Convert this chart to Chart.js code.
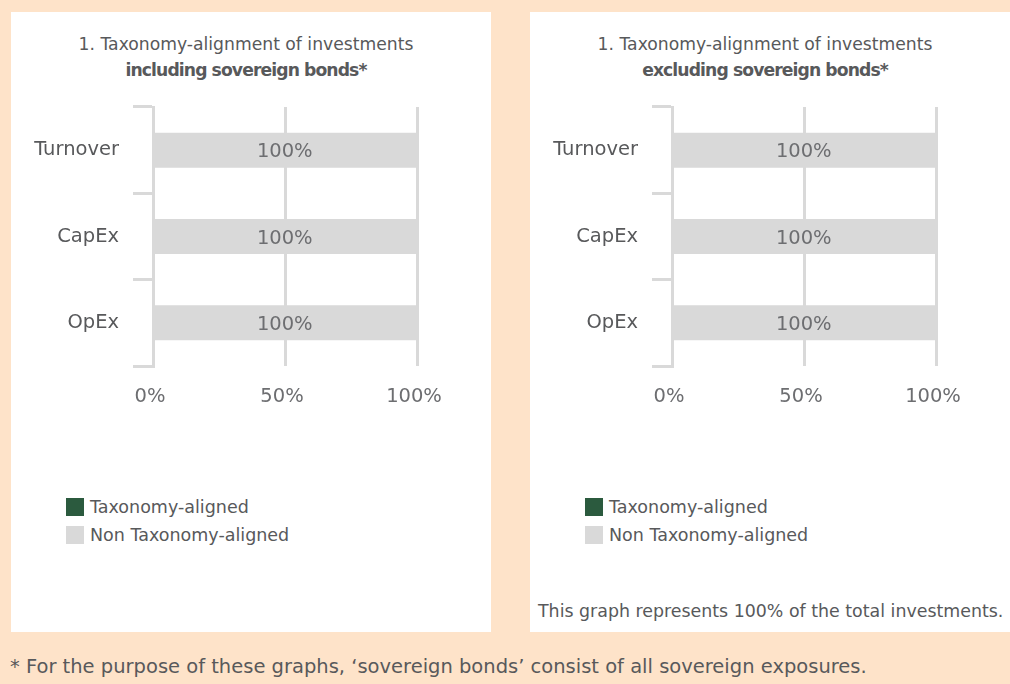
<!DOCTYPE html>
<html><head><meta charset="utf-8">
<script src="https://cdn.jsdelivr.net/npm/chart.js@4"></script>
<style>
body{margin:0;width:1010px;height:684px;background:#fee3c9;position:relative;overflow:hidden;font-family:"DejaVu Sans",sans-serif;color:#58595b}
.panel{position:absolute;top:12px;width:480px;height:620px;background:#fff}
.title{position:absolute;top:19px;left:0;width:470px;text-align:center;font-size:17.2px;line-height:26px}
.title b{font-weight:700;letter-spacing:-0.9px}
canvas{position:absolute;left:0;top:83px}
.legend{position:absolute;left:55px;top:481px;font-size:17.5px}
.legend div{height:28px;display:flex;align-items:center}
.legend span.sw{display:inline-block;width:18px;height:18px;margin-right:6px}
.note{position:absolute;left:8px;top:587px;font-size:17.4px;line-height:24px}
.foot{position:absolute;left:10px;top:654px;font-size:19.5px;line-height:26px}
</style></head>
<body>
<div class="panel" id="p1" style="left:11px">
  <div class="title">1. Taxonomy-alignment of investments<br><b>including sovereign bonds*</b></div>
  <canvas id="c1" width="470" height="320"></canvas>
  <div class="legend" id="l1"></div>
</div>
<div class="panel" id="p2" style="left:530px">
  <div class="title">1. Taxonomy-alignment of investments<br><b>excluding sovereign bonds*</b></div>
  <canvas id="c2" width="470" height="320"></canvas>
  <div class="legend" id="l2"></div>
  <div class="note">This graph represents 100% of the total investments.</div>
</div>
<div class="foot">* For the purpose of these graphs, ‘sovereign bonds’ consist of all sovereign exposures.</div>
<script>
const categories = ['Turnover', 'CapEx', 'OpEx'];
const seriesNames = ['Taxonomy-aligned', 'Non Taxonomy-aligned'];
const alignedIncl = [0, 0, 0];
const nonAlignedIncl = [100, 100, 100];
const alignedExcl = [0, 0, 0];
const nonAlignedExcl = [100, 100, 100];
const xTickValues = [0, 50, 100];

const FONT = '"DejaVu Sans", sans-serif';
const GREEN = '#2b5a3e', GREY = '#d9d9d9';

const valueLabels = {
  id: 'valueLabels',
  afterDatasetsDraw(chart) {
    const ctx = chart.ctx;
    ctx.save();
    ctx.font = '19.5px ' + FONT;
    ctx.fillStyle = '#6d6e71';
    ctx.textAlign = 'center';
    ctx.textBaseline = 'middle';
    chart.data.datasets.forEach((ds, i) => {
      const meta = chart.getDatasetMeta(i);
      meta.data.forEach((bar, j) => {
        const v = ds.data[j];
        if (v > 0) ctx.fillText(v + '%', (bar.x + bar.base) / 2 - 1, bar.y + 2);
      });
    });
    ctx.restore();
  }
};

function makeChart(id, aligned, nonAligned) {
  return new Chart(document.getElementById(id), {
    type: 'bar',
    data: {
      labels: categories,
      datasets: [
        { label: seriesNames[0], data: aligned, backgroundColor: GREEN, barPercentage: 0.405, categoryPercentage: 1 },
        { label: seriesNames[1], data: nonAligned, backgroundColor: GREY, barPercentage: 0.405, categoryPercentage: 1 }
      ]
    },
    options: {
      responsive: false, animation: false, indexAxis: 'y',
      layout: { padding: { top: 12, right: 64, left: 0, bottom: 0 } },
      plugins: { legend: { display: false }, tooltip: { enabled: false } },
      scales: {
        x: {
          stacked: true, min: 0, max: 100,
          afterBuildTicks: s => { s.ticks = xTickValues.map(v => ({ value: v })); },
          afterFit: s => { s.height = 49; s.paddingLeft = 0; s.paddingRight = 0; },
          ticks: { callback: v => v + '%', color: '#6d6e71', font: { size: 19.5, family: FONT }, padding: 19, maxRotation: 0, labelOffset: -3 },
          grid: { color: GREY, lineWidth: 3, drawTicks: false },
          border: { display: false }
        },
        y: {
          stacked: true,
          afterFit: s => { s.width = 142; s.paddingTop = 0; s.paddingBottom = 0; },
          ticks: { color: '#58595b', font: { size: 19.5, family: FONT }, padding: 14 },
          grid: { color: GREY, lineWidth: 3, drawOnChartArea: false, drawTicks: true, tickLength: 20, offset: true },
          border: { display: true, color: GREY, width: 3 }
        }
      }
    },
    plugins: [valueLabels]
  });
}

function makeLegend(id) {
  const el = document.getElementById(id);
  [GREEN, GREY].forEach((c, i) => {
    const d = document.createElement('div');
    d.innerHTML = '<span class="sw" style="background:' + c + '"></span>' + seriesNames[i];
    el.appendChild(d);
  });
}

makeChart('c1', alignedIncl, nonAlignedIncl);
makeChart('c2', alignedExcl, nonAlignedExcl);
makeLegend('l1');
makeLegend('l2');
</script>
</body></html>
